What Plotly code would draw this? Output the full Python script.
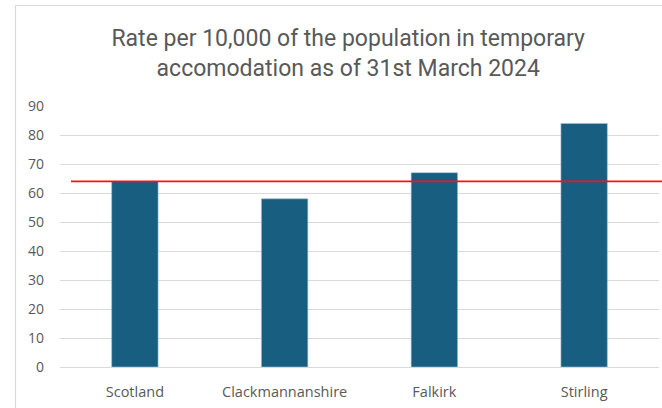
import plotly.graph_objects as go

categories = ["Scotland", "Clackmannanshire", "Falkirk", "Stirling"]
rates = [64, 58, 67, 84]
y_ticks = [0, 10, 20, 30, 40, 50, 60, 70, 80, 90]
title_text = "Rate per 10,000 of the population in temporary<br>accomodation as of 31st March 2024"
reference_rate = rates[0]

W, H = 662, 408
ml, mr, mt, mb = 60, 3, 106, 41
pw = W - ml - mr
ph = H - mt - mb

def px_x(p):
    return (p - ml) / pw

def px_y(p):
    return (H - mb - p) / ph

fig = go.Figure()
fig.add_trace(go.Bar(
    x=categories, y=rates,
    marker=dict(color="#175e80", line=dict(color="#a9c1d2", width=0.6)),
    width=0.31,
    hoverinfo="x+y",
))

fig.add_shape(type="line", xref="paper", yref="y",
              x0=px_x(71), x1=px_x(W + 5), y0=reference_rate, y1=reference_rate,
              line=dict(color="#ff1010", width=1.6), layer="above")

# chart border (partially cropped in reference)
fig.add_shape(type="rect", xref="paper", yref="paper",
              x0=px_x(15.5), x1=px_x(W + 20), y0=px_y(5.5), y1=px_y(H + 20),
              line=dict(color="#d9d9d9", width=1.2), fillcolor="rgba(0,0,0,0)", layer="below")

fig.update_layout(
    width=W, height=H,
    margin=dict(l=ml, r=mr, t=mt, b=mb, pad=0),
    paper_bgcolor="white", plot_bgcolor="white",
    showlegend=False,
    title=dict(text=title_text, x=0.526, xanchor="center", y=1 - 46 / H, yanchor="top",
               font=dict(family="Roboto", size=23, color="#595959")),
    font=dict(family="Open Sans", color="#595959"),
    xaxis=dict(showgrid=False, showline=True, linecolor="#d9d9d9", linewidth=1,
               ticks="", tickfont=dict(size=14.5, color="#595959"), ticklabelstandoff=12,
               fixedrange=True),
    yaxis=dict(range=[0, 90], tickvals=y_ticks, showgrid=True, gridcolor="#d9d9d9", gridwidth=1,
               zeroline=False, showline=False, ticks="",
               tickfont=dict(size=14, color="#595959"), ticklabelstandoff=15,
               fixedrange=True),
)

fig.write_html("out.html", config={"displayModeBar": False},
               post_script="document.body.style.margin='0';")
